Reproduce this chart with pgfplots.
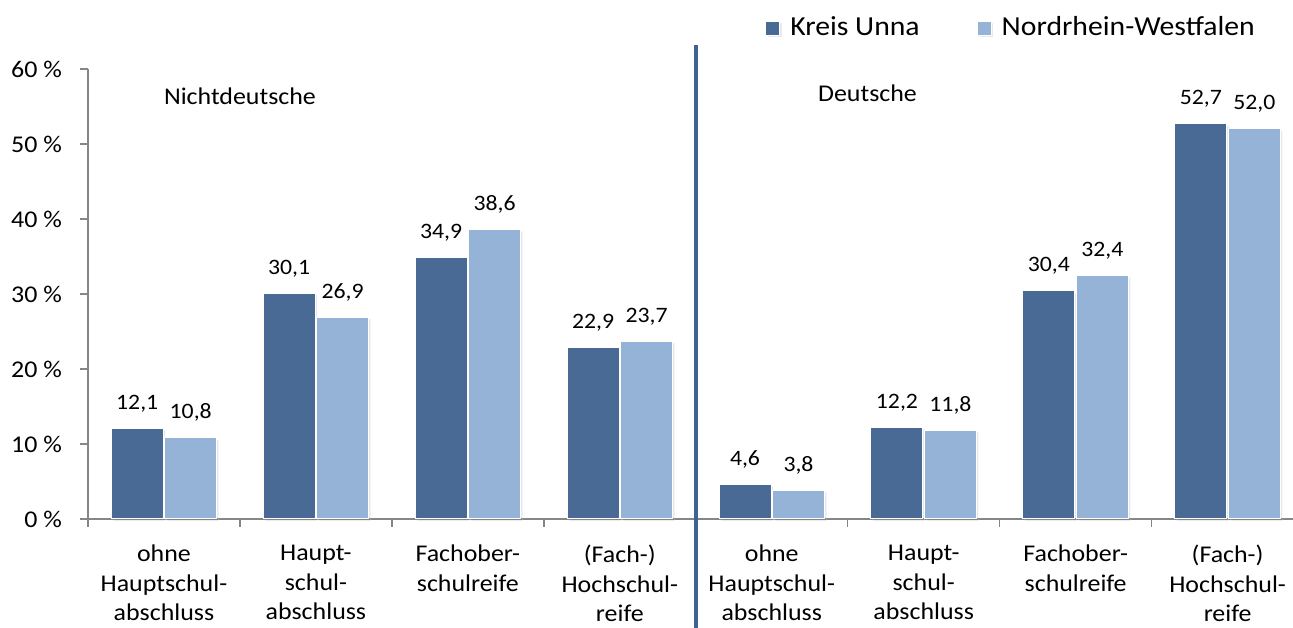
\documentclass[border=0pt]{standalone}
\usepackage{fontspec}
\setmainfont{Carlito}[FakeStretch=1.08]
\usepackage{pgfplots}
\pgfplotsset{compat=1.18}
\usetikzlibrary{shadows}
\definecolor{kreis}{HTML}{4A6A96}
\definecolor{nrw}{HTML}{95B3D7}
\definecolor{axgray}{HTML}{868686}
\definecolor{divider}{HTML}{3E6496}
\begin{document}
\fontsize{24pt}{29.5pt}\selectfont
\begin{tikzpicture}
\useasboundingbox (0,0) rectangle (1293pt,628pt);
\begin{axis}[
  at={(88pt,109pt)}, anchor=south west,
  scale only axis, width=1205pt, height=450pt,
  xmin=-0.5, xmax=7.43, ymin=0, ymax=60,
  ybar=1.5pt, bar width=52pt,
  axis x line*=bottom, axis y line*=left,
  axis line style={axgray, line width=1.5pt},
  tick align=outside,
  xtick={0,...,7},
  xticklabels={{ohne\\Hauptschul-\\abschluss},{Haupt-\\schul-\\abschluss},{Fachober-\\schulreife},{(Fach-)\\Hochschul-\\reife},{ohne\\Hauptschul-\\abschluss},{Haupt-\\schul-\\abschluss},{Fachober-\\schulreife},{(Fach-)\\Hochschul-\\reife}},
  xticklabel style={align=center, font=\fontsize{24pt}{29.5pt}\selectfont, anchor=north, yshift=-10pt},
  major x tick style={draw=none},
  minor xtick={-0.5,0.5,...,6.5},
  minor tick length=8pt,
  minor x tick style={axgray, line width=1.5pt},
  ytick={0,10,...,60},
  yticklabels={0 \%,10 \%,20 \%,30 \%,40 \%,50 \%,60 \%},
  yticklabel style={font=\fontsize{24pt}{29.5pt}\selectfont, xshift=-10pt},
  major tick length=8pt,
  major y tick style={axgray, line width=1.5pt},
  nodes near coords,
  every node near coord/.append style={font=\fontsize{22pt}{27pt}\selectfont, anchor=base, yshift=19pt, black},
  /pgf/number format/.cd, fixed, fixed zerofill, precision=1, use comma, assume math mode=true,
  /pgfplots/.cd,
  clip=false,
  legend columns=2,
  legend style={draw=none, inner sep=0pt, at={(0.562,1.091)}, anchor=west, font=\fontsize{27.5pt}{33pt}\selectfont,
    /tikz/every odd column/.append style={column sep=8pt},
    /tikz/every even column/.append style={column sep=55pt}},
  legend image code/.code={\fill[#1] (0pt,-7pt) rectangle (14pt,7pt);},
]
\addplot[fill=kreis, draw=white, line width=1pt, drop shadow={shadow xshift=2pt, shadow yshift=-2pt, opacity=0.18}] coordinates {(0,12.1) (1,30.1) (2,34.9) (3,22.9) (4,4.6) (5,12.2) (6,30.4) (7,52.7)};
\addplot[fill=nrw, draw=white, line width=1pt, drop shadow={shadow xshift=2pt, shadow yshift=-2pt, opacity=0.18}] coordinates {(0,10.8) (1,26.9) (2,38.6) (3,23.7) (4,3.8) (5,11.8) (6,32.4) (7,52.0)};
\legend{Kreis Unna, Nordrhein-Westfalen}
\draw[divider, line width=3.5pt] (axis cs:3.5,63.2) -- (axis cs:3.5,-14.6);
\node[font=\fontsize{24pt}{29.5pt}\selectfont] at (axis cs:0.5,56.4) {Nichtdeutsche};
\node[font=\fontsize{24pt}{29.5pt}\selectfont] at (axis cs:4.63,56.8) {Deutsche};
\end{axis}
\end{tikzpicture}
\end{document}
